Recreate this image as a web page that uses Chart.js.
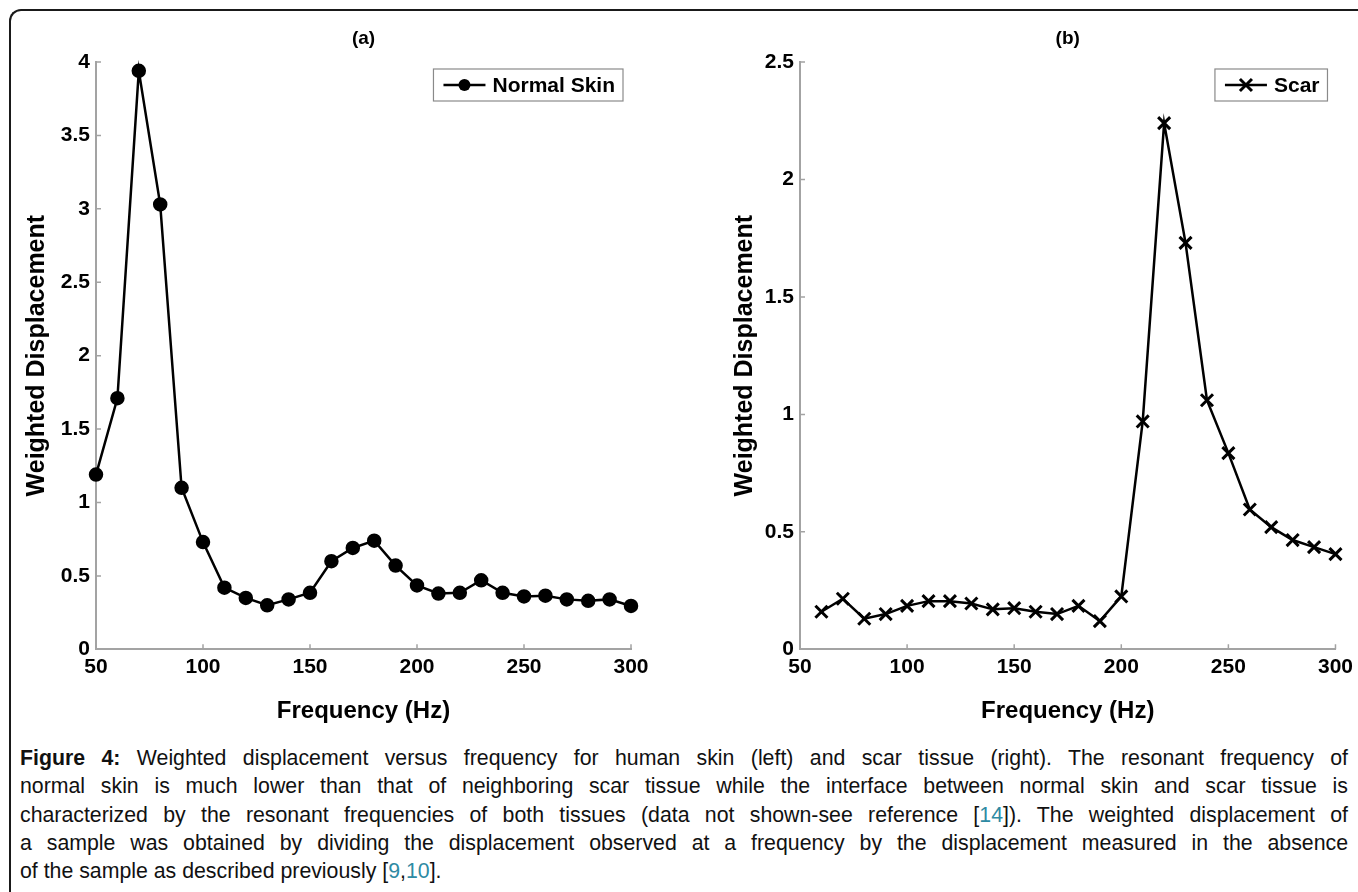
<!DOCTYPE html>
<html>
<head>
<meta charset="utf-8">
<script src="https://cdn.jsdelivr.net/npm/chart.js@4.4.1/dist/chart.umd.min.js"></script>
<style>
  html, body { margin: 0; padding: 0; background: #fff; }
  body { width: 1358px; height: 892px; overflow: hidden; position: relative; font-family: "Liberation Sans", Arial, sans-serif; }
  #frame { position: absolute; left: 9px; top: 9px; width: 1420px; height: 1000px;
           border-left: 2px solid #1a1a1a; border-top: 2px solid #1a1a1a; border-top-left-radius: 12px; }
  #chartA { position: absolute; left: 0; top: 0; }
  #chartB { position: absolute; left: 680px; top: 0; }
  #caption { position: absolute; left: 20px; top: 744px; width: 1328px; font-size: 21.3px; line-height: 28.33px; color: #111; }
  #caption div { text-align: justify; text-align-last: justify; }
  #caption div.last { text-align-last: left; }
  #caption a { color: #2e8aa3; text-decoration: none; }
</style>
</head>
<body>
<div id="frame"></div>
<canvas id="chartA" width="680" height="740"></canvas>
<canvas id="chartB" width="678" height="740"></canvas>
<div id="caption">
  <div><b>Figure 4:</b> Weighted displacement versus frequency for human skin (left) and scar tissue (right). The resonant frequency of</div>
  <div>normal skin is much lower than that of neighboring scar tissue while the interface between normal skin and scar tissue is</div>
  <div>characterized by the resonant frequencies of both tissues (data not shown-see reference [<a>14</a>]). The weighted displacement of</div>
  <div>a sample was obtained by dividing the displacement observed at a frequency by the displacement measured in the absence</div>
  <div class="last">of the sample as described previously [<a>9</a>,<a>10</a>].</div>
</div>
<script>
// panel (a): normal skin
const freqSkin = [50, 60, 70, 80, 90, 100, 110, 120, 130, 140, 150, 160, 170, 180, 190, 200, 210, 220, 230, 240, 250, 260, 270, 280, 290, 300];
const dispSkin = [1.19, 1.71, 3.94, 3.03, 1.10, 0.73, 0.42, 0.35, 0.30, 0.34, 0.385, 0.60, 0.69, 0.74, 0.57, 0.435, 0.38, 0.385, 0.47, 0.385, 0.36, 0.365, 0.34, 0.33, 0.34, 0.295];
// panel (b): scar
const freqScar = [60, 70, 80, 90, 100, 110, 120, 130, 140, 150, 160, 170, 180, 190, 200, 210, 220, 230, 240, 250, 260, 270, 280, 290, 300];
const dispScar = [0.16, 0.215, 0.13, 0.15, 0.185, 0.205, 0.205, 0.195, 0.17, 0.175, 0.16, 0.15, 0.185, 0.12, 0.225, 0.97, 2.24, 1.73, 1.06, 0.835, 0.595, 0.52, 0.465, 0.435, 0.405];

Chart.defaults.font.family = '"Liberation Sans", Arial, sans-serif';
Chart.defaults.color = '#000';

const AXIS = '#a3a3a3';
const FONT = '"Liberation Sans", Arial, sans-serif';

// matlab style ticks pointing into the plot
const innerTicks = {
  id: 'innerTicks',
  afterDraw(chart) {
    const {ctx, chartArea, scales} = chart;
    ctx.save();
    ctx.strokeStyle = AXIS;
    ctx.lineWidth = 1.5;
    ctx.beginPath();
    scales.x.ticks.forEach(t => {
      const px = scales.x.getPixelForValue(t.value);
      ctx.moveTo(px, chartArea.bottom);
      ctx.lineTo(px, chartArea.bottom - 5);
    });
    scales.y.ticks.forEach(t => {
      const py = scales.y.getPixelForValue(t.value);
      ctx.moveTo(chartArea.left, py);
      ctx.lineTo(chartArea.left + 5, py);
    });
    ctx.stroke();
    ctx.restore();
  }
};

function drawMarker(ctx, style, x, y, r) {
  ctx.beginPath();
  if (style === 'circle') {
    ctx.arc(x, y, r, 0, Math.PI * 2);
    ctx.fill();
  } else {
    const d = r * Math.SQRT1_2;
    ctx.moveTo(x - d, y - d); ctx.lineTo(x + d, y + d);
    ctx.moveTo(x + d, y - d); ctx.lineTo(x - d, y + d);
    ctx.stroke();
  }
}

// boxed legend inside the top right corner
const boxLegend = {
  id: 'boxLegend',
  afterDraw(chart) {
    const {ctx, chartArea} = chart;
    const ds = chart.data.datasets[0];
    ctx.save();
    ctx.font = 'bold 21px ' + FONT;
    const tw = ctx.measureText(ds.label).width;
    const w = 10 + 42 + 7 + tw + 8, h = 32;
    const x = chartArea.right - 8 - w, y = chartArea.top + 7;
    ctx.fillStyle = '#fff';
    ctx.fillRect(x, y, w, h);
    ctx.strokeStyle = '#8a8a8a';
    ctx.lineWidth = 1.2;
    ctx.strokeRect(x, y, w, h);
    const cy = y + h / 2;
    ctx.strokeStyle = '#000';
    ctx.fillStyle = '#000';
    ctx.lineWidth = 2.5;
    ctx.beginPath();
    ctx.moveTo(x + 10, cy); ctx.lineTo(x + 52, cy);
    ctx.stroke();
    ctx.lineWidth = ds.pointBorderWidth;
    drawMarker(ctx, ds.pointStyle, x + 31, cy, ds.pointRadius);
    ctx.textBaseline = 'middle';
    ctx.textAlign = 'left';
    ctx.fillText(ds.label, x + 59, cy + 1);
    ctx.restore();
  }
};

function makeChart(id, title, label, xs, ys, yMax, style, radius, pbw, yWidth, yTitlePad, rightEdge) {
  const canvas = document.getElementById(id);
  return new Chart(canvas.getContext('2d'), {
    type: 'line',
    data: {
      datasets: [{
        label: label,
        data: xs.map((f, i) => ({x: f, y: ys[i]})),
        borderColor: '#000',
        backgroundColor: '#000',
        borderWidth: 2.5,
        pointStyle: style,
        pointRadius: radius,
        pointBorderWidth: pbw,
        pointBorderColor: '#000',
        pointBackgroundColor: '#000',
        tension: 0,
        clip: false
      }]
    },
    options: {
      responsive: false,
      animation: false,
      devicePixelRatio: 1,
      layout: {padding: {left: 0, right: canvas.width - rightEdge, top: 0, bottom: 0}},
      plugins: {
        legend: {display: false},
        tooltip: {enabled: false},
        title: {
          display: true,
          text: title,
          fullSize: false,
          color: '#000',
          font: {size: 19, weight: 'bold'},
          padding: {top: 27.5, bottom: 11.7}
        }
      },
      scales: {
        x: {
          type: 'linear',
          min: 50,
          max: 300,
          afterFit: s => { s.height = 740 - 649.3; },
          ticks: {stepSize: 50, padding: 5, color: '#000', font: {size: 21, weight: 'bold'}},
          grid: {display: false, drawTicks: false},
          border: {color: AXIS, width: 2},
          title: {display: true, text: 'Frequency (Hz)', color: '#000',
                  font: {size: 24, weight: 'bold'}, padding: {top: 0, bottom: 14.6}}
        },
        y: {
          min: 0,
          max: yMax,
          afterFit: s => { s.width = yWidth; },
          ticks: {stepSize: 0.5, padding: 6, color: '#000', font: {size: 21, weight: 'bold'},
                  callback: v => String(v)},
          grid: {display: false, drawTicks: false},
          border: {color: AXIS, width: 2},
          title: {display: true, text: 'Weighted Displacement', color: '#000',
                  font: {size: 25, weight: 'bold'}, padding: {top: yTitlePad, bottom: 0}}
        }
      }
    },
    plugins: [innerTicks, boxLegend]
  });
}

makeChart('chartA', '(a)', 'Normal Skin', freqSkin, dispSkin, 4, 'circle', 6, 2.5, 96, 22, 631);
makeChart('chartB', '(b)', 'Scar', freqScar, dispScar, 2.5, 'crossRot', 8.5, 3, 120, 50, 658);
</script>
</body>
</html>
